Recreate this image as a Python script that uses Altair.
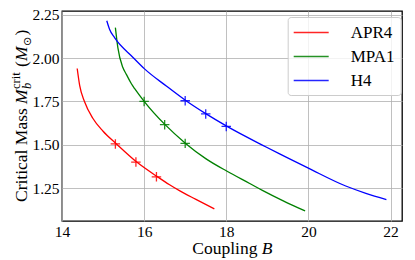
import altair as alt
import pandas as pd

eos_names = ["APR4", "MPA1", "H4"]
eos_colors = ["#ff0000", "#008000", "#0000ff"]

# curves: coupling B vs critical mass
apr4_B = [14.37, 14.43, 14.55, 14.75, 15.00, 15.32, 15.82, 16.32, 16.62, 16.86, 17.25, 17.71]
apr4_M = [1.940, 1.843, 1.748, 1.653, 1.578, 1.506, 1.400, 1.316, 1.269, 1.235, 1.186, 1.130]

mpa1_B = [15.30, 15.36, 15.48, 15.57, 15.69, 15.77, 16.01, 16.51, 17.01, 17.50, 18.02, 18.56, 18.88, 19.40, 19.92]
mpa1_M = [2.176, 2.061, 1.947, 1.905, 1.852, 1.824, 1.748, 1.616, 1.508, 1.420, 1.347, 1.278, 1.237, 1.175, 1.118]

h4_B = [15.09, 15.16, 15.28, 15.73, 16.01, 16.54, 17.02, 17.51, 18.02, 18.97, 19.30, 20.00, 20.91, 21.40, 21.90]
h4_M = [2.216, 2.165, 2.118, 2.004, 1.938, 1.839, 1.754, 1.678, 1.606, 1.487, 1.447, 1.365, 1.262, 1.220, 1.184]

# "+" markers
apr4_mB = [15.3, 15.8, 16.3]
apr4_mM = [1.505, 1.400, 1.315]
mpa1_mB = [16.0, 16.5, 17.0]
mpa1_mM = [1.750, 1.616, 1.508]
h4_mB = [17.0, 17.5, 18.0]
h4_mM = [1.754, 1.678, 1.606]

x_ticks = [14, 16, 18, 20, 22]
y_ticks = [1.25, 1.50, 1.75, 2.00, 2.25]

curves = pd.concat([
    pd.DataFrame({"B": apr4_B, "M": apr4_M, "eos": "APR4"}),
    pd.DataFrame({"B": mpa1_B, "M": mpa1_M, "eos": "MPA1"}),
    pd.DataFrame({"B": h4_B, "M": h4_M, "eos": "H4"}),
])
marks = pd.concat([
    pd.DataFrame({"B": apr4_mB, "M": apr4_mM, "eos": "APR4"}),
    pd.DataFrame({"B": mpa1_mB, "M": mpa1_mM, "eos": "MPA1"}),
    pd.DataFrame({"B": h4_mB, "M": h4_mM, "eos": "H4"}),
])

FONT = "Liberation Serif"

x_enc = alt.X("B:Q", scale=alt.Scale(domain=[14.0, 22.28], nice=False, zero=False),
              axis=alt.Axis(values=x_ticks, format=".0f", title=None, grid=True, ticks=False,
                            domain=False, labelPadding=3, labelFlush=False))
y_enc = alt.Y("M:Q", scale=alt.Scale(domain=[1.060, 2.272], nice=False, zero=False),
              axis=alt.Axis(values=y_ticks, format=".2f", title=None, grid=True, ticks=False,
                            domain=False, labelPadding=3, labelFlush=False))

legend = alt.Legend(orient="none", legendX=225.7, legendY=6, title=None,
                    symbolType="M-2,0L2,0", symbolSize=306, symbolStrokeWidth=1.5,
                    symbolOffset=8, labelOffset=30, padding=6, rowPadding=6,
                    labelFont=FONT, labelFontSize=17, labelColor="black",
                    fillColor="rgba(255,255,255,0.8)", strokeColor="#cccccc",
                    cornerRadius=3)
color_enc = alt.Color("eos:N", scale=alt.Scale(domain=eos_names, range=eos_colors), legend=legend)

line = alt.Chart(curves).mark_line(strokeWidth=1.3, interpolate="monotone").encode(
    x=x_enc, y=y_enc, color=color_enc)
pts = alt.Chart(marks).mark_point(shape="M-1,0L1,0M0,-1L0,1", size=90, filled=False,
                                  strokeWidth=1.3, opacity=0.85).encode(
    x=x_enc, y=y_enc, color=color_enc)

one = pd.DataFrame({"k": [0]})


def txt(s, x, y, size, style="normal", angle=270, font=FONT):
    return alt.Chart(one).mark_text(text=s, angle=angle, align="left", baseline="alphabetic",
                                    font=font, fontSize=size, fontStyle=style,
                                    color="black").encode(x=alt.value(x), y=alt.value(y))


texts = [
    txt("Critical Mass", -35.5, 191, 17.5),
    txt("M", -35.5, 93, 17.5, "italic"),
    txt("crit", -42.5, 78, 12.5),
    txt("b", -31.5, 78, 12.5, "italic"),
    txt("(", -35.5, 56, 17.5),
    txt("M", -35.5, 50, 17.5, "italic"),
    txt("⊙", -31.5, 35, 11, font="DejaVu Sans"),
    txt(")", -35.5, 24.5, 17.5),
    txt("Coupling", 130.3, 243, 17.5, angle=0),
    txt("B", 199.8, 243, 17.5, "italic", angle=0),
]

chart = alt.layer(line, pts, *texts).properties(
    width=340, height=210,
    autosize=alt.AutoSizeParams(type="none"),
    padding={"left": 54, "top": 3, "right": 5, "bottom": 38},
).configure_view(stroke="black", strokeWidth=1.3).configure_axis(
    gridColor="#b0b0b0", gridWidth=0.8, labelFont=FONT, labelFontSize=15.5,
    labelColor="black")

chart.save("out.html", embed_options={"renderer": "svg", "actions": False})
